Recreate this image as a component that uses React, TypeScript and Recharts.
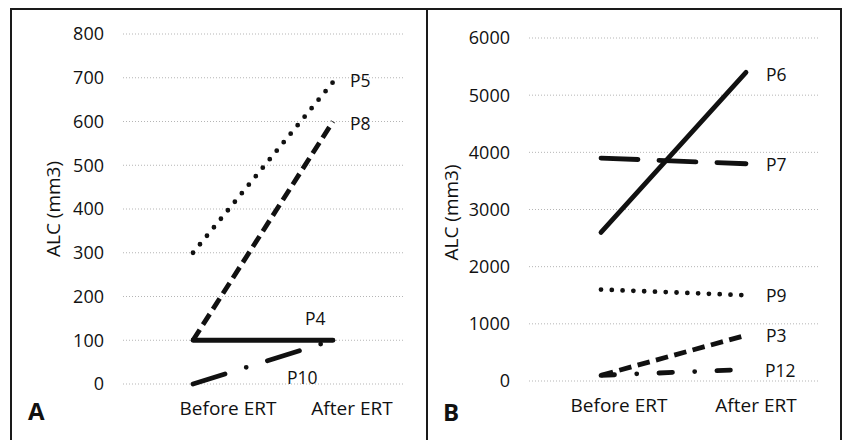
import React from 'react';
import { LineChart, Line, XAxis, YAxis, CartesianGrid, LabelList } from 'recharts';

const categories = ['Before ERT', 'After ERT'];

// Panel A
const p5 = [300, 690];
const p8 = [100, 600];
const p4 = [100, 100];
const p10 = [0, 100];
const ticksA = [0, 100, 200, 300, 400, 500, 600, 700, 800];

// Panel B
const p6 = [2600, 5400];
const p7 = [3900, 3800];
const p9 = [1600, 1500];
const p3 = [100, 800];
const p12 = [100, 200];
const ticksB = [0, 1000, 2000, 3000, 4000, 5000, 6000];

const dataA = categories.map((c, i) => ({ cat: c, P5: p5[i], P8: p8[i], P4: p4[i], P10: p10[i] }));
const dataB = categories.map((c, i) => ({ cat: c, P6: p6[i], P7: p7[i], P9: p9[i], P3: p3[i], P12: p12[i] }));

const FONT = '"Open Sans", sans-serif';
const INK = '#111';

const endLabel = (name: string, dx: number, dy: number) => (props: any) => {
  const { x, y, index } = props;
  if (index !== 1) return null;
  return (
    <text x={x + dx} y={y + dy} dominantBaseline="central" textAnchor="start"
      fontFamily={FONT} fontSize={17.5} fill={INK}>{name}</text>
  );
};

const makeXTick = (offsets: number[]) => (props: any) => {
  const { x, y, payload, index } = props;
  return (
    <text x={x + offsets[index]} y={y + 24} textAnchor="middle" dominantBaseline="central"
      fontFamily={FONT} fontSize={19} fill={INK}>{payload.value}</text>
  );
};

const yTitle = (cxAbs: number, dy: number) => (props: any) => {
  const vb = props.viewBox || {};
  const cx = cxAbs;
  const cy = (vb.y ?? 0) + (vb.height ?? 0) / 2 + dy;
  return (
    <text x={cx} y={cy} transform={`rotate(-90 ${cx} ${cy})`} textAnchor="middle"
      dominantBaseline="central" fontFamily={FONT} fontSize={19} fill={INK}>ALC (mm3)</text>
  );
};

const tickStyle = { fontFamily: FONT, fontSize: 18, fill: INK };
const gridStroke = '#b5b5b5';

export default function App() {
  return (
    <div style={{ position: 'absolute', left: 0, top: 0, width: 843, height: 440, background: '#fff', overflow: 'hidden' }}>
      <div style={{ position: 'absolute', left: 10, top: 8, width: 832, height: 460, border: '2px solid #1a1a1a', boxSizing: 'border-box' }} />
      <div style={{ position: 'absolute', left: 426, top: 8, width: 2, height: 440, background: '#1a1a1a' }} />

      <div style={{ position: 'absolute', left: 11, top: 9 }}>
        <LineChart width={416} height={431} data={dataA} margin={{ top: 25, right: 24, bottom: 26, left: 0 }}>
          <CartesianGrid vertical={false} stroke={gridStroke} strokeDasharray="1 2" />
          <XAxis dataKey="cat" padding={{ left: 70, right: 70 }} axisLine={false} tickLine={false}
            tickSize={0} tickMargin={0} height={30} interval={0} tick={makeXTick([35, 19])} />
          <YAxis domain={[0, 800]} ticks={ticksA} width={112} axisLine={false} tickLine={false}
            tickSize={0} tickMargin={19} tick={tickStyle} label={{ content: yTitle(42, 0) }} />
          <Line dataKey="P5" stroke={INK} strokeWidth={4.8} strokeDasharray="0 11" strokeLinecap="round"
            dot={false} activeDot={false} isAnimationActive={false}>
            <LabelList dataKey="P5" content={endLabel('P5', 17, -2)} />
          </Line>
          <Line dataKey="P8" stroke={INK} strokeWidth={4.8} strokeDasharray="12.5 6"
            dot={false} activeDot={false} isAnimationActive={false}>
            <LabelList dataKey="P8" content={endLabel('P8', 17, 1)} />
          </Line>
          <Line dataKey="P4" stroke={INK} strokeWidth={4.8} strokeLinecap="round"
            dot={false} activeDot={false} isAnimationActive={false}>
            <LabelList dataKey="P4" content={endLabel('P4', -28, -22)} />
          </Line>
          <Line dataKey="P10" stroke={INK} strokeWidth={4.8} strokeDasharray="33.5 22.25 0 22.25" strokeLinecap="round"
            dot={false} activeDot={false} isAnimationActive={false}>
            <LabelList dataKey="P10" content={endLabel('P10', -46, 37)} />
          </Line>
        </LineChart>
      </div>

      <div style={{ position: 'absolute', left: 427, top: 9 }}>
        <LineChart width={415} height={431} data={dataB} margin={{ top: 29, right: 24, bottom: 29, left: 0 }}>
          <CartesianGrid vertical={false} stroke={gridStroke} strokeDasharray="1 2" />
          <XAxis dataKey="cat" padding={{ left: 72, right: 72 }} axisLine={false} tickLine={false}
            tickSize={0} tickMargin={0} height={30} interval={0} tick={makeXTick([18, 10])} />
          <YAxis domain={[0, 6000]} ticks={ticksB} width={102} axisLine={false} tickLine={false}
            tickSize={0} tickMargin={19} tick={tickStyle} label={{ content: yTitle(24, 3) }} />
          <Line dataKey="P6" stroke={INK} strokeWidth={4.8} strokeLinecap="round"
            dot={false} activeDot={false} isAnimationActive={false}>
            <LabelList dataKey="P6" content={endLabel('P6', 20, 2)} />
          </Line>
          <Line dataKey="P7" stroke={INK} strokeWidth={4.8} strokeDasharray="37 21" strokeLinecap="round"
            dot={false} activeDot={false} isAnimationActive={false}>
            <LabelList dataKey="P7" content={endLabel('P7', 20, 0)} />
          </Line>
          <Line dataKey="P9" stroke={INK} strokeWidth={4.8} strokeDasharray="0 10.8" strokeLinecap="round"
            dot={false} activeDot={false} isAnimationActive={false}>
            <LabelList dataKey="P9" content={endLabel('P9', 20, 0)} />
          </Line>
          <Line dataKey="P3" stroke={INK} strokeWidth={4.8} strokeDasharray="12.5 6.5"
            dot={false} activeDot={false} isAnimationActive={false}>
            <LabelList dataKey="P3" content={endLabel('P3', 20, 0)} />
          </Line>
          <Line dataKey="P12" stroke={INK} strokeWidth={4.8} strokeDasharray="13.5 22.25 0 22.25" strokeLinecap="round"
            dot={false} activeDot={false} isAnimationActive={false}>
            <LabelList dataKey="P12" content={endLabel('P12', 19, 0)} />
          </Line>
        </LineChart>
      </div>

      <div style={{ position: 'absolute', left: 28, top: 396, fontFamily: FONT, fontWeight: 700, fontSize: 24, color: INK, lineHeight: '30px' }}>A</div>
      <div style={{ position: 'absolute', left: 443, top: 397, fontFamily: FONT, fontWeight: 700, fontSize: 24, color: INK, lineHeight: '30px' }}>B</div>
    </div>
  );
}
